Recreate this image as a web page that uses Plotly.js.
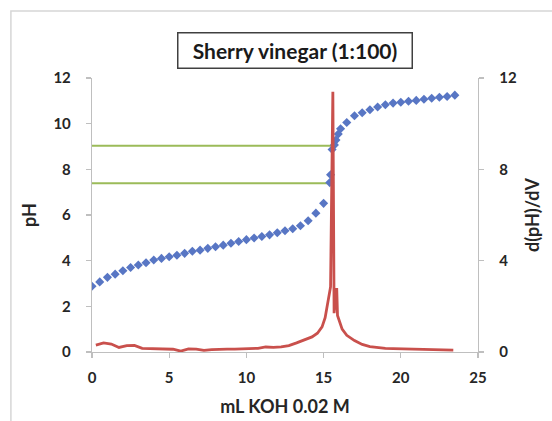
<!DOCTYPE html>
<html>
<head>
<meta charset="utf-8">
<script src="https://cdn.plot.ly/plotly-3.0.1.min.js"></script>
<style>
  html, body { margin: 0; padding: 0; background: #ffffff; }
  #chart { width: 552px; height: 421px; }
</style>
</head>
<body>
<div id="chart"></div>
<script>
// ---- Data ----
const volumeML = [0, 0.5, 1, 1.5, 2, 2.5, 3, 3.5, 4, 4.5, 5, 5.5, 6, 6.5, 7, 7.5, 8, 8.5, 9, 9.5,
  10, 10.5, 11, 11.5, 12, 12.5, 13, 13.5, 14, 14.5, 15, 15.4, 15.45, 15.55, 15.7, 15.8, 15.95, 16.1,
  16.5, 17, 17.5, 18, 18.5, 19, 19.5, 20, 20.5, 21, 21.5, 22, 22.5, 23, 23.5];
const pH = [2.88, 3.07, 3.27, 3.41, 3.56, 3.7, 3.81, 3.91, 4.03, 4.1, 4.17, 4.24, 4.32, 4.41, 4.46, 4.54, 4.61, 4.68, 4.76, 4.84,
  4.92, 4.99, 5.06, 5.13, 5.22, 5.31, 5.4, 5.53, 5.75, 6.08, 6.51, 7.42, 7.76, 8.87, 9.07, 9.28, 9.55, 9.78,
  10.05, 10.35, 10.48, 10.61, 10.73, 10.83, 10.9, 10.94, 10.98, 11.02, 11.07, 11.11, 11.16, 11.19, 11.25];

const derivVolume = [0.25, 0.75, 1.25, 1.75, 2.25, 2.75, 3.25, 3.75, 4.25, 4.75, 5.25, 5.75, 6.25, 6.75, 7.25, 7.75,
  8.25, 8.75, 9.25, 9.75, 10.25, 10.75, 11.25, 11.75, 12.25, 12.75, 13.25, 13.75, 14.25, 14.6, 14.9, 15.1, 15.3,
  15.45, 15.6, 15.68, 15.85, 15.9, 16.2, 16.5, 17, 17.5, 18, 18.5, 19, 19.5, 20, 20.5, 21, 21.5, 22, 22.5, 23, 23.4];
const dpHdV = [0.3, 0.4, 0.35, 0.2, 0.28, 0.29, 0.16, 0.15, 0.15, 0.15, 0.12, 0.04, 0.14, 0.13, 0.07, 0.1,
  0.13, 0.13, 0.13, 0.14, 0.15, 0.16, 0.22, 0.2, 0.22, 0.28, 0.4, 0.52, 0.66, 0.82, 1.1, 1.5, 2.25,
  2.85, 11.4, 1.7, 2.8, 1.6, 1.0, 0.73, 0.5, 0.33, 0.24, 0.19, 0.16, 0.15, 0.14, 0.12, 0.11, 0.12, 0.12, 0.11, 0.1, 0.08];

// reference pH levels (green guide lines) and the volume where each ends
const guidePH = [9.03, 7.39];
const guideEndVolume = [15.75, 15.43];

const titleText = 'Sherry vinegar (1:100)';
const xTitle = 'mL KOH 0.02 M';
const yTitle = 'pH';
const y2Title = 'd(pH)/dV';

// ---- Styles ----
const FONT = 'Lato, "Open Sans", Arial, sans-serif';
const tickFont = { family: FONT, size: 15, color: '#262626', weight: 700 };
const titleFont = { family: FONT, size: 18, color: '#262626', weight: 700 };
const axisGray = '#bfbfbf';

const traces = [];
guidePH.forEach((lvl, i) => {
  traces.push({
    x: [0, guideEndVolume[i]], y: [lvl, lvl], type: 'scatter', mode: 'lines',
    line: { color: '#9BBB59', width: 2 }, hoverinfo: 'skip', showlegend: false, xaxis: 'x', yaxis: 'y'
  });
});
traces.push({
  x: volumeML, y: pH, type: 'scatter', mode: 'markers', name: 'pH',
  marker: { symbol: 'diamond', size: 7, color: '#5876C4', line: { width: 0 } },
  xaxis: 'x', yaxis: 'y'
});
traces.push({
  x: derivVolume, y: dpHdV, type: 'scatter', mode: 'lines', name: 'd(pH)/dV',
  line: { color: '#C9504C', width: 2.8 }, xaxis: 'x', yaxis: 'y2'
});

const axisCommon = {
  showline: true, linecolor: axisGray, linewidth: 1.2,
  ticks: 'outside', ticklen: 5, tickwidth: 1.2, tickcolor: axisGray,
  showgrid: false, zeroline: false, tickfont: tickFont, fixedrange: true
};

const layout = {
  width: 552, height: 421,
  margin: { l: 92, r: 74, t: 78, b: 69, pad: 0 },
  paper_bgcolor: '#ffffff', plot_bgcolor: '#ffffff',
  showlegend: false,
  xaxis: Object.assign({}, axisCommon, {
    range: [0, 25], tick0: 0, dtick: 5, ticklabelstandoff: 7,
    title: { text: xTitle, font: titleFont, standoff: 15 }
  }),
  yaxis: Object.assign({}, axisCommon, {
    range: [0, 12], tick0: 0, dtick: 2, ticklabelstandoff: 12,
    title: { text: yTitle, font: titleFont, standoff: 12 }
  }),
  yaxis2: Object.assign({}, axisCommon, {
    range: [0, 12], tick0: 0, dtick: 4, overlaying: 'y', side: 'right', ticklabelstandoff: 12,
    title: { text: y2Title, font: titleFont, standoff: 10 }
  }),
  annotations: [{
    text: titleText, xref: 'paper', yref: 'paper', x: 0.5266, y: 1.1015,
    xanchor: 'center', yanchor: 'middle', showarrow: false,
    font: { family: FONT, size: 21, color: '#1a1a1a', weight: 700 },
    bgcolor: '#ffffff', bordercolor: '#404040', borderwidth: 1.5, borderpad: 1,
    width: 231, height: 32
  }],
  shapes: [{
    type: 'rect', xref: 'paper', yref: 'paper',
    x0: -0.2101, x1: 1.3, y0: -0.4, y1: 1.2445,
    line: { color: '#d6d6d6', width: 1.5 }, fillcolor: 'rgba(0,0,0,0)', layer: 'below'
  }]
};

Plotly.newPlot('chart', traces, layout, { staticPlot: true, displayModeBar: false });
</script>
</body>
</html>
